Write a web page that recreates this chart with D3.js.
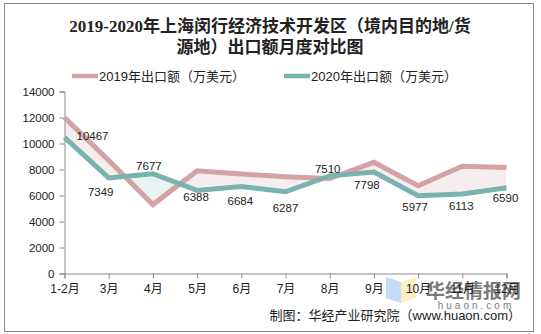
<!DOCTYPE html>
<html>
<head>
<meta charset="utf-8">
<script src="https://cdn.jsdelivr.net/npm/d3@7"></script>
<style>
  html, body { margin: 0; padding: 0; background: #fff; }
  svg { display: block; }
  text { font-family: "Liberation Sans", Arial, "Noto Sans CJK SC", sans-serif; fill: #222; }
</style>
</head>
<body>
<svg id="chart" width="541" height="334"></svg>
<script>
// Monthly export value, 10k USD
const months = ["1-2月", "3月", "4月", "5月", "6月", "7月", "8月", "9月", "10月", "11月", "12月"];
const exports2019 = [12000, 8700, 5300, 7900, 7650, 7450, 7300, 8550, 6750, 8250, 8150];
const exports2020 = [10467, 7349, 7677, 6388, 6684, 6287, 7510, 7798, 5977, 6113, 6590];
const yTicks = [0, 2000, 4000, 6000, 8000, 10000, 12000, 14000];
const seriesNames = ["2019年出口额（万美元）", "2020年出口额（万美元）"];

// Placement of each 2020 value label relative to its point (dx, dy of text centre)
const labelOffsets = [[28, -1], [-8, 14], [-4, -8], [-1, 7], [-1, 14], [0, 16], [-2, -7], [-7, 13], [-3, 11], [-1, 12], [-1, 10]];

const colors = { s2019: "#d3a3a3", s2020: "#79b3b0", fill2019: "#f6eeee", fill2020: "#eaf3f2", axis: "#8c8c8c" };

const svg = d3.select("#chart");

// outer frame
svg.append("rect").attr("x", 4.5).attr("y", 3.5).attr("width", 529).attr("height", 328)
  .attr("fill", "#fff").attr("stroke", "#8a8a8a").attr("stroke-width", 1);

// title
const title = svg.append("text").attr("text-anchor", "middle")
  .style("font-family", "'Liberation Serif', 'Noto Sans CJK SC', serif")
  .style("font-weight", "bold").style("font-size", "17px").attr("fill", "#222");
title.append("tspan").attr("x", 270).attr("y", 32).text("2019-2020年上海闵行经济技术开发区（境内目的地/货");
title.append("tspan").attr("x", 270).attr("y", 53).text("源地）出口额月度对比图");

// legend
const legend = [
  { name: seriesNames[0], color: colors.s2019, x: 72 },
  { name: seriesNames[1], color: colors.s2020, x: 284 }
];
legend.forEach(l => {
  svg.append("line").attr("x1", l.x).attr("x2", l.x + 26).attr("y1", 76).attr("y2", 76)
    .attr("stroke", l.color).attr("stroke-width", 4.5);
  svg.append("text").attr("x", l.x + 27).attr("y", 76).attr("dy", "0.35em")
    .style("font-size", "13px").attr("fill", "#333").text(l.name);
});

// scales
const x = d3.scalePoint().domain(months).range([64.5, 506.5]);
const y = d3.scaleLinear().domain([0, 14000]).range([273.5, 91.5]);

const rows = months.map((m, i) => ({ m, a: exports2019[i], b: exports2020[i] }));

// watermark, drawn underneath the chart
const wm = svg.append("g").attr("opacity", 0.6);
wm.append("path").attr("d", "M386,277 L401,282 L401,303 L386,298 Z").attr("fill", "#9cc3f5");
wm.append("path").attr("d", "M401,282 L416,277 L416,298 L401,303 Z").attr("fill", "#fbe79a");
wm.append("text").attr("x", 426).attr("y", 291).attr("dy", "0.35em")
  .style("font-size", "19px").style("font-weight", "bold").attr("fill", "#bdbdbd")
  .style("font-family", "'Noto Sans CJK SC', sans-serif").text("华经情报网");
wm.append("text").attr("x", 476).attr("y", 305).attr("dy", "0.35em").attr("text-anchor", "middle")
  .style("font-size", "10px").style("letter-spacing", "3px").attr("fill", "#d6d6d6").text("huaon.com");

// difference fill between the two years
const defs = svg.append("defs");
defs.append("clipPath").attr("id", "above2020").append("path")
  .attr("d", d3.area().x(d => x(d.m)).y0(0).y1(d => y(d.b))(rows));
defs.append("clipPath").attr("id", "below2020").append("path")
  .attr("d", d3.area().x(d => x(d.m)).y0(334).y1(d => y(d.b))(rows));

svg.append("path").attr("clip-path", "url(#above2020)").attr("fill", colors.fill2019)
  .attr("d", d3.area().x(d => x(d.m)).y0(334).y1(d => y(d.a))(rows));
svg.append("path").attr("clip-path", "url(#below2020)").attr("fill", colors.fill2020)
  .attr("d", d3.area().x(d => x(d.m)).y0(0).y1(d => y(d.a))(rows));

// axes
const yAxis = svg.append("g").attr("transform", "translate(64.5,0)")
  .call(d3.axisLeft(y).tickValues(yTicks).tickSize(5).tickPadding(5).tickFormat(d3.format("d")));
const xAxis = svg.append("g").attr("transform", "translate(0,273.5)")
  .call(d3.axisBottom(x).tickSize(5).tickPadding(6));
[yAxis, xAxis].forEach(g => {
  g.select(".domain").attr("stroke", colors.axis);
  g.selectAll(".tick line").attr("stroke", colors.axis);
  g.selectAll(".tick text").attr("fill", "#222").style("font-size", "12px")
    .style("font-family", "'Liberation Sans', Arial, 'Noto Sans CJK SC', sans-serif");
});
yAxis.selectAll(".tick text").style("font-size", "11.5px");

// lines
const line = key => d3.line().x(d => x(d.m)).y(d => y(d[key]));
svg.append("path").datum(rows).attr("d", line("a")).attr("fill", "none")
  .attr("stroke", colors.s2019).attr("stroke-width", 5).attr("stroke-linejoin", "miter");
svg.append("path").datum(rows).attr("d", line("b")).attr("fill", "none")
  .attr("stroke", colors.s2020).attr("stroke-width", 5).attr("stroke-linejoin", "miter");

// value labels for 2020
svg.append("g").selectAll("text").data(rows).join("text")
  .attr("x", (d, i) => x(d.m) + labelOffsets[i][0])
  .attr("y", (d, i) => y(d.b) + labelOffsets[i][1])
  .attr("dy", "0.35em").attr("text-anchor", "middle")
  .style("font-size", "11.5px").attr("fill", "#222")
  .text(d => d.b);

// source note
svg.append("text").attr("x", 521).attr("y", 315).attr("dy", "0.35em").attr("text-anchor", "end")
  .style("font-size", "13px").attr("fill", "#222").text("制图：华经产业研究院（www.huaon.com）");
</script>
</body>
</html>
